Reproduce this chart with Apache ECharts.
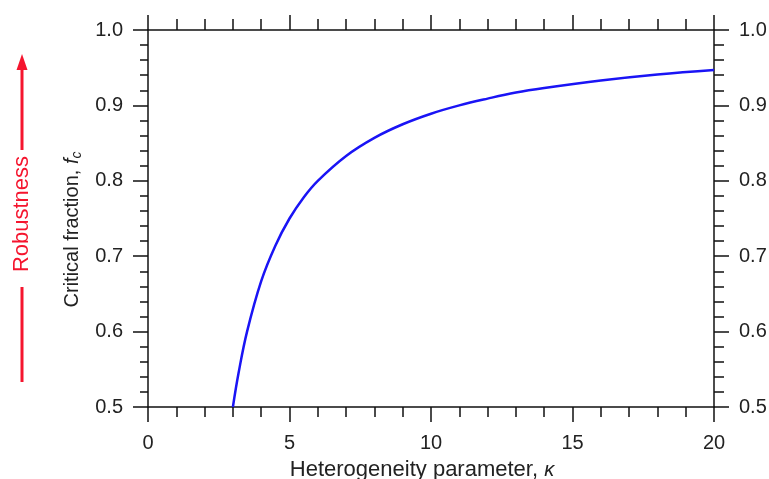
<!DOCTYPE html>
<html>
<head>
<meta charset="utf-8">
<script src="https://cdn.jsdelivr.net/npm/echarts@6/dist/echarts.min.js"></script>
<style>
  html, body { margin: 0; padding: 0; background: #fff; }
  #main { width: 769px; height: 479px; }
</style>
</head>
<body>
<div id="main"></div>
<script>
// kappa values and critical fraction
var kappa = [3, 3.2, 3.5, 4, 4.5, 5, 5.5, 6, 7, 8, 9, 10, 11, 12, 13, 14, 16, 18, 20];
var fc = [0.500, 0.545, 0.600, 0.667, 0.714, 0.750, 0.778, 0.800, 0.833, 0.857, 0.875, 0.889, 0.900, 0.909, 0.917, 0.923, 0.933, 0.941, 0.947];
var xTicks = [0, 5, 10, 15, 20];
var yTicks = [0.5, 0.6, 0.7, 0.8, 0.9, 1.0];

var font = 'Liberation Sans, Arial, sans-serif';
var ink = '#111';

var chart = echarts.init(document.getElementById('main'));

function xAx(pos, showLabel) {
    return {
        type: 'value',
        position: pos,
        min: xTicks[0],
        max: xTicks[xTicks.length - 1],
        interval: 5,
        axisLine: { show: true, onZero: false, lineStyle: { color: ink, width: 1.5 } },
        axisTick: { show: true, inside: false, length: 15, lineStyle: { color: ink, width: 1.5 } },
        minorTick: { show: true, splitNumber: 5, length: pos == 'top' ? 11 : 10, lineStyle: { color: ink, width: 1.5 } },
        splitLine: { show: false },
        axisLabel: { show: showLabel, margin: 26, color: '#222', fontSize: 20, fontFamily: font }
    };
}

function yAx(pos) {
    return {
        type: 'value',
        position: pos,
        min: yTicks[0],
        max: yTicks[yTicks.length - 1],
        interval: 0.1,
        axisLine: { show: true, onZero: false, lineStyle: { color: ink, width: 1.5 } },
        axisTick: { show: true, inside: false, length: 15, lineStyle: { color: ink, width: 1.5 } },
        minorTick: { show: true, splitNumber: 5, length: pos == 'left' ? 8 : 10, lineStyle: { color: ink, width: 1.5 } },
        splitLine: { show: false },
        axisLabel: {
            show: true, margin: 25, color: '#222', fontSize: 20, fontFamily: font,
            formatter: function (v) { return v.toFixed(1); }
        }
    };
}

var bottomX = xAx('bottom', true);
bottomX.name = 'Heterogeneity parameter, {k|κ}';
bottomX.nameLocation = 'middle';
bottomX.nameGap = 52;
bottomX.nameTextStyle = {
    color: '#222', fontSize: 22, fontFamily: font,
    padding: [0, 18, 0, 0],
    rich: { k: { fontSize: 20, fontStyle: 'italic', fontFamily: font, color: '#222' } }
};

var leftY = yAx('left');
leftY.name = 'Critical fraction, {i|f}{s|c}';
leftY.nameLocation = 'middle';
leftY.nameGap = 52;
leftY.nameTextStyle = {
    color: '#222', fontSize: 20, fontFamily: font,
    padding: [0, 22, 0, 0],
    rich: {
        i: { fontSize: 20, fontStyle: 'italic', fontFamily: font, color: '#222' },
        s: { fontSize: 14, fontStyle: 'italic', fontFamily: font, color: '#222', verticalAlign: 'bottom', padding: [9, 0, 0, 0] }
    }
};

var option = {
    backgroundColor: '#fff',
    animation: false,
    grid: { left: 148, right: 55, top: 30, bottom: 72, containLabel: false, outerBoundsMode: 'none' },
    xAxis: [bottomX, xAx('top', false)],
    yAxis: [leftY, yAx('right')],
    series: [
        {
            type: 'line',
            xAxisIndex: 0,
            yAxisIndex: 0,
            data: kappa.map(function (k, i) { return [k, fc[i]]; }),
            smooth: 0.4,
            showSymbol: false,
            lineStyle: { color: '#1a14f5', width: 2.5 }
        }
    ],
    graphic: [
        {
            type: 'text',
            x: 22, y: 214,
            rotation: Math.PI / 2,
            style: {
                text: 'Robustness',
                fill: '#f5152e',
                font: '22px ' + font,
                align: 'center',
                verticalAlign: 'middle'
            }
        },
        {
            type: 'line',
            shape: { x1: 22, y1: 382, x2: 22, y2: 287 },
            style: { stroke: '#f5152e', lineWidth: 3 }
        },
        {
            type: 'line',
            shape: { x1: 22, y1: 150, x2: 22, y2: 66 },
            style: { stroke: '#f5152e', lineWidth: 3 }
        },
        {
            type: 'polygon',
            shape: { points: [[22, 54], [16.5, 70], [27.5, 70]] },
            style: { fill: '#f5152e' }
        }
    ]
};

chart.setOption(option);
</script>
</body>
</html>
